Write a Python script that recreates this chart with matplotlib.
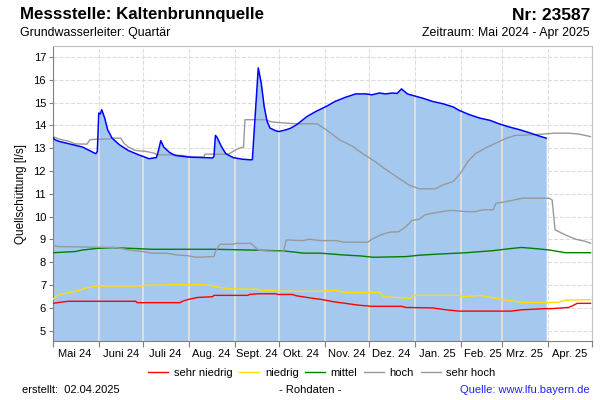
import numpy as np
import pandas as pd
import matplotlib
matplotlib.use("Agg")
import matplotlib.pyplot as plt
import matplotlib.dates as mdates

plt.rcParams['font.family'] = ['Liberation Sans', 'DejaVu Sans']

# Messwerte (Quellschuettung l/s)
mess_dates = ["2024-05-01", "2024-05-02", "2024-05-05", "2024-05-21", "2024-05-29", "2024-05-30",
              "2024-05-31", "2024-06-01", "2024-06-02", "2024-06-03", "2024-06-05", "2024-06-07",
              "2024-06-10", "2024-06-15", "2024-06-21", "2024-06-28", "2024-07-03", "2024-07-05",
              "2024-07-10", "2024-07-11", "2024-07-13", "2024-07-15", "2024-07-19", "2024-07-23",
              "2024-08-01", "2024-08-11", "2024-08-17", "2024-08-18", "2024-08-19", "2024-08-20",
              "2024-08-23", "2024-08-26", "2024-08-31", "2024-09-06", "2024-09-12", "2024-09-13",
              "2024-09-17", "2024-09-19", "2024-09-21", "2024-09-23", "2024-09-25", "2024-09-29",
              "2024-10-01", "2024-10-06", "2024-10-09", "2024-10-13", "2024-10-20", "2024-10-26",
              "2024-11-02", "2024-11-08", "2024-11-15", "2024-11-22", "2024-11-29", "2024-12-03",
              "2024-12-08", "2024-12-12", "2024-12-17", "2024-12-20", "2024-12-23", "2024-12-27",
              "2025-01-02", "2025-01-06", "2025-01-13", "2025-01-20", "2025-01-27", "2025-01-31",
              "2025-02-07", "2025-02-14", "2025-02-21", "2025-02-27", "2025-03-06", "2025-03-13",
              "2025-03-19", "2025-03-26", "2025-03-31"]
mess_vals = [13.47, 13.38, 13.30, 13.05, 12.79, 12.76,
             12.85, 14.54, 14.50, 14.69, 14.32, 13.81,
             13.44, 13.15, 12.90, 12.71, 12.59, 12.54,
             12.59, 12.79, 13.33, 13.05, 12.81, 12.68,
             12.61, 12.59, 12.57, 12.64, 13.56, 13.49,
             13.08, 12.76, 12.59, 12.52, 12.49, 12.50,
             16.52, 15.86, 14.83, 14.17, 13.88, 13.76,
             13.73, 13.81, 13.88, 14.03, 14.39, 14.61,
             14.83, 15.05, 15.23, 15.38, 15.38, 15.34,
             15.42, 15.38, 15.42, 15.40, 15.60, 15.38,
             15.27, 15.20, 15.05, 14.95, 14.81, 14.66,
             14.47, 14.32, 14.22, 14.07, 13.93, 13.81,
             13.69, 13.54, 13.44]

sehr_hoch_dates = ["2024-05-01", "2024-05-05", "2024-05-12", "2024-05-16", "2024-05-24", "2024-05-26",
                   "2024-05-31", "2024-06-08", "2024-06-09", "2024-06-16", "2024-06-18", "2024-06-21",
                   "2024-06-26", "2024-07-03", "2024-07-08", "2024-07-11", "2024-07-19", "2024-07-28",
                   "2024-08-03", "2024-08-11", "2024-08-12", "2024-08-28", "2024-09-01", "2024-09-04",
                   "2024-09-07", "2024-09-08", "2024-09-22", "2024-09-26", "2024-10-06", "2024-10-13",
                   "2024-10-27", "2024-11-02", "2024-11-11", "2024-11-20", "2024-11-26", "2024-12-05",
                   "2024-12-11", "2024-12-21", "2024-12-28", "2025-01-04", "2025-01-15", "2025-01-20",
                   "2025-01-27", "2025-02-01", "2025-02-06", "2025-02-11", "2025-02-18", "2025-02-25",
                   "2025-03-04", "2025-03-10", "2025-03-22", "2025-03-31", "2025-04-06", "2025-04-15",
                   "2025-04-22", "2025-04-30"]
sehr_hoch_vals = [13.51, 13.40, 13.30, 13.19, 13.18, 13.37,
                  13.40, 13.40, 13.44, 13.44, 13.22, 13.05,
                  12.90, 12.86, 12.79, 12.71, 12.71, 12.68,
                  12.61, 12.61, 12.74, 12.74, 12.90, 13.00,
                  13.05, 14.25, 14.25, 14.15, 14.10, 14.07,
                  14.07, 13.81, 13.37, 13.08, 12.79, 12.42,
                  12.13, 11.69, 11.39, 11.22, 11.22, 11.39,
                  11.54, 11.91, 12.42, 12.76, 13.01, 13.23,
                  13.44, 13.56, 13.59, 13.63, 13.66, 13.66,
                  13.62, 13.51]

hoch_dates = ["2024-05-01", "2024-05-04", "2024-05-30", "2024-06-13", "2024-06-21", "2024-07-01",
              "2024-07-07", "2024-07-17", "2024-07-24", "2024-07-31", "2024-08-06", "2024-08-18",
              "2024-08-19", "2024-08-22", "2024-08-31", "2024-09-02", "2024-09-12", "2024-09-17",
              "2024-09-22", "2024-10-04", "2024-10-06", "2024-10-17", "2024-10-22", "2024-10-29",
              "2024-11-09", "2024-11-14", "2024-11-30", "2024-12-03", "2024-12-09", "2024-12-15",
              "2024-12-21", "2024-12-26", "2024-12-30", "2025-01-04", "2025-01-08", "2025-01-13",
              "2025-01-22", "2025-01-27", "2025-02-05", "2025-02-11", "2025-02-16", "2025-02-23",
              "2025-02-25", "2025-03-04", "2025-03-15", "2025-04-02", "2025-04-04", "2025-04-06",
              "2025-04-13", "2025-04-20", "2025-04-27", "2025-04-30"]
hoch_vals = [8.76, 8.69, 8.66, 8.65, 8.54, 8.47,
             8.40, 8.40, 8.32, 8.29, 8.22, 8.25,
             8.47, 8.79, 8.79, 8.83, 8.83, 8.54,
             8.50, 8.47, 8.98, 8.95, 9.01, 8.95,
             8.95, 8.88, 8.88, 9.01, 9.20, 9.32,
             9.34, 9.56, 9.83, 9.89, 10.08, 10.15,
             10.25, 10.27, 10.22, 10.22, 10.30, 10.30,
             10.59, 10.66, 10.81, 10.81, 10.73, 9.42,
             9.20, 9.01, 8.91, 8.83]

mittel_dates = ["2024-05-01", "2024-05-16", "2024-05-21", "2024-05-27", "2024-05-31", "2024-06-10",
                "2024-06-23", "2024-07-07", "2024-08-19", "2024-09-17", "2024-10-04", "2024-10-18",
                "2024-10-29", "2024-11-14", "2024-11-25", "2024-12-04", "2024-12-26", "2025-01-04",
                "2025-01-17", "2025-02-05", "2025-02-23", "2025-03-04", "2025-03-14", "2025-03-22",
                "2025-04-02", "2025-04-13", "2025-04-30"]
mittel_vals = [8.42, 8.47, 8.54, 8.58, 8.61, 8.64,
               8.61, 8.57, 8.57, 8.53, 8.50, 8.40,
               8.40, 8.32, 8.28, 8.22, 8.25, 8.31,
               8.36, 8.42, 8.51, 8.58, 8.65, 8.61,
               8.54, 8.42, 8.42]

niedrig_dates = ["2024-05-01", "2024-05-03", "2024-05-07", "2024-05-12", "2024-05-17", "2024-05-23",
                 "2024-05-28", "2024-05-31", "2024-07-02", "2024-07-03", "2024-07-17", "2024-07-18",
                 "2024-08-10", "2024-08-17", "2024-08-22", "2024-08-29", "2024-09-17", "2024-09-18",
                 "2024-09-29", "2024-09-30", "2024-10-29", "2024-11-05", "2024-11-08", "2024-11-14",
                 "2024-12-08", "2024-12-11", "2024-12-29", "2024-12-31", "2025-01-31", "2025-02-03",
                 "2025-02-14", "2025-02-27", "2025-03-15", "2025-04-08", "2025-04-13", "2025-04-30"]
niedrig_vals = [6.38, 6.52, 6.61, 6.67, 6.75, 6.86,
                6.93, 6.96, 6.96, 7.00, 7.00, 7.02,
                7.02, 6.97, 6.90, 6.83, 6.82, 6.77,
                6.77, 6.73, 6.73, 6.75, 6.78, 6.68,
                6.68, 6.49, 6.42, 6.55, 6.55, 6.49,
                6.55, 6.39, 6.24, 6.24, 6.34, 6.36]

sehr_niedrig_dates = ["2024-05-01", "2024-05-05", "2024-05-11", "2024-06-26", "2024-06-27", "2024-07-26",
                      "2024-07-28", "2024-08-01", "2024-08-07", "2024-08-17", "2024-08-18", "2024-09-10",
                      "2024-09-11", "2024-09-17", "2024-09-29", "2024-09-30", "2024-10-10", "2024-10-13",
                      "2024-10-24", "2024-10-29", "2024-11-07", "2024-11-15", "2024-11-24", "2024-12-03",
                      "2024-12-23", "2024-12-26", "2025-01-13", "2025-01-22", "2025-01-31", "2025-03-07",
                      "2025-03-15", "2025-03-31", "2025-04-04", "2025-04-15", "2025-04-17", "2025-04-21",
                      "2025-04-30"]
sehr_niedrig_vals = [6.20, 6.24, 6.29, 6.29, 6.23, 6.23,
                     6.30, 6.38, 6.46, 6.49, 6.55, 6.55,
                     6.59, 6.62, 6.62, 6.59, 6.59, 6.53,
                     6.42, 6.38, 6.27, 6.20, 6.12, 6.07,
                     6.07, 6.02, 6.00, 5.92, 5.86, 5.86,
                     5.92, 5.97, 5.97, 6.02, 6.07, 6.20,
                     6.20]

month_labels = ["Mai 24", "Juni 24", "Juli 24", "Aug. 24", "Sept. 24", "Okt. 24",
                "Nov. 24", "Dez. 24", "Jan. 25", "Feb. 25", "Mrz. 25", "Apr. 25"]
y_ticks = [5, 6, 7, 8, 9, 10, 11, 12, 13, 14, 15, 16, 17]

FILL = '#a5c8ef'
GRID = '#dcdcdc'
YMIN, YMAX = 4.55, 17.48

fig = plt.figure(figsize=(6, 4), dpi=100)
ax = fig.add_axes([53 / 600, 1 - 341 / 400, 539 / 600, 295 / 400])

md = pd.to_datetime(mess_dates)
ax.fill_between(md, mess_vals, YMIN, color=FILL, lw=0, zorder=1)

# month separators: solid inside the filled area, dashed grid above
x_start = pd.Timestamp("2024-05-01")
x_end = pd.Timestamp("2025-05-01")
month_starts = pd.date_range("2024-06-01", "2025-04-01", freq="MS")
mnum = mdates.date2num(md)
for m in month_starts:
    mx = mdates.date2num(m)
    top = np.interp(mx, mnum, mess_vals) if mx <= mnum[-1] else YMIN
    ax.plot([m, m], [YMIN, top], color='#e4e2dc', lw=1.3, zorder=1.5)

ax.plot(pd.to_datetime(sehr_niedrig_dates), sehr_niedrig_vals, color='#ff0000', lw=1, label='sehr niedrig', zorder=3)
ax.plot(pd.to_datetime(niedrig_dates), niedrig_vals, color='#ffdd00', lw=1, label='niedrig', zorder=3)
ax.plot(pd.to_datetime(mittel_dates), mittel_vals, color='#008000', lw=1, label='mittel', zorder=3)
ax.plot(pd.to_datetime(hoch_dates), hoch_vals, color='#999999', lw=1, label='hoch', zorder=3)
ax.plot(pd.to_datetime(sehr_hoch_dates), sehr_hoch_vals, color='#999999', lw=1, label='sehr hoch', zorder=3)
ax.plot(md, mess_vals, color='#0000ff', lw=1.1, zorder=4)

ax.set_xlim(x_start, x_end)
ax.set_ylim(YMIN, YMAX)
ax.set_yticks(y_ticks)
ax.tick_params(axis='y', labelsize=8, length=3, color='#808080', pad=2)

ax.xaxis.set_major_locator(mdates.MonthLocator())
ax.xaxis.set_major_formatter(plt.NullFormatter())
label_pos = pd.date_range("2024-05-01", "2025-04-01", freq="MS") + pd.Timedelta(days=15)
ax.set_xticks(label_pos, minor=True)
ax.set_xticklabels(month_labels, minor=True)
ax.tick_params(axis='x', which='major', length=4, color='#808080')
ax.tick_params(axis='x', which='minor', length=0, labelsize=8, pad=6)

ax.grid(True, which='major', ls='--', color=GRID, lw=0.8)
ax.set_axisbelow(True)
for s in ['left', 'bottom']:
    ax.spines[s].set_color('#808080')
for s in ['top', 'right']:
    ax.spines[s].set_color('#c0c0c0')

ax.set_ylabel('Quellschüttung [l/s]', fontsize=8.5, labelpad=5)

fig.text(20 / 600, 1 - 15 / 400, 'Messstelle: Kaltenbrunnquelle', fontsize=12.2, fontweight='bold', va='center')
fig.text(590 / 600, 1 - 15 / 400, 'Nr: 23587', fontsize=12.5, fontweight='bold', va='center', ha='right')
fig.text(20 / 600, 1 - 33 / 400, 'Grundwasserleiter: Quartär', fontsize=8.9, va='center')
fig.text(590 / 600, 1 - 33 / 400, 'Zeitraum: Mai 2024 - Apr 2025', fontsize=8.9, va='center', ha='right')

fig.legend(loc='center', bbox_to_anchor=(322 / 600, 1 - 373 / 400), ncol=5, frameon=False,
           fontsize=8, handlelength=1.8, handletextpad=0.5, columnspacing=0.6)

fig.text(22 / 600, 1 - 390 / 400, 'erstellt:  02.04.2025', fontsize=8, va='center')
fig.text(310 / 600, 1 - 390 / 400, '- Rohdaten -', fontsize=8, va='center', ha='center')
fig.text(590 / 600, 1 - 390 / 400, 'Quelle: www.lfu.bayern.de', fontsize=8, va='center', ha='right', color='#2020ff')

fig.savefig('out.png', dpi=100)
